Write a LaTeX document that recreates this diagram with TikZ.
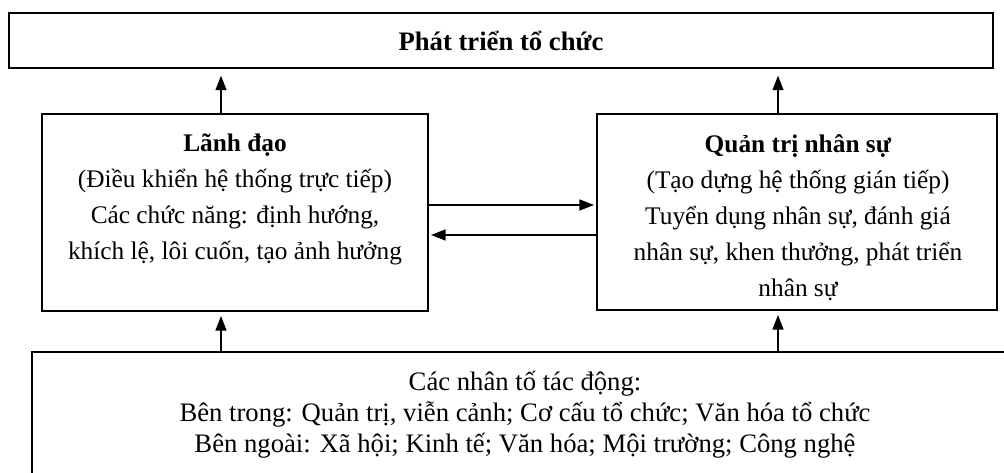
\documentclass[tikz,border=0pt]{standalone}
\usepackage{fontspec}
\setmainfont{Liberation Serif}
\usetikzlibrary{arrows.meta,calc}
\begin{document}
\begin{tikzpicture}[x=0.75pt,y=-0.75pt,
  box/.style={draw=black,line width=1.3pt,rectangle,inner sep=0pt},
  txt/.style={align=center,inner sep=0pt,font=\fontsize{19}{27}\selectfont},
  txtb/.style={align=center,inner sep=0pt,font=\fontsize{20}{23.25}\selectfont},
  arr/.style={line width=1.7pt,-{Triangle[length=11pt,width=8pt]}}]
\useasboundingbox (0,0) rectangle (1004,473);
\clip (0,0) rectangle (1004,473);
% boxes
\node[box,minimum width=738pt,minimum height=41.25pt] (T) at (501,40.5) {};
\node[box,minimum width=289.5pt,minimum height=147.75pt] (L) at (235,212.5) {};
\node[box,minimum width=300pt,minimum height=147pt] (R) at (797,212) {};
\node[box,minimum width=739.5pt,minimum height=111pt] (B) at (525,426) {};
% texts
\node[txt,font=\fontsize{20}{27}\selectfont] (Tt) at (501,41) {\textbf{Phát triển tổ chức}};
\node[txt,anchor=north] (Lt) at (235,134) {\textbf{Lãnh đạo}\\(Điều khiển hệ thống trực tiếp)\\Các chức năng: định hướng,\\khích lệ, lôi cuốn, tạo ảnh hưởng};
\node[txt,anchor=north] (Rt) at (798,134) {\textbf{Quản trị nhân sự}\\(Tạo dựng hệ thống gián tiếp)\\Tuyển dụng nhân sự, đánh giá\\nhân sự, khen thưởng, phát triển\\nhân sự};
\node[txtb,anchor=north] (Bt) at (525,371) {Các nhân tố tác động:\\Bên trong: Quản trị, viễn cảnh; Cơ cấu tổ chức; Văn hóa tổ chức\\Bên ngoài: Xã hội; Kinh tế; Văn hóa; Mội trường; Công nghệ};
% arrow positions
\coordinate (xa) at (221,0);
\coordinate (xb) at (778,0);
\coordinate (ya) at (0,205);
\coordinate (yb) at (0,235);
% arrows
\draw[arr,shorten >=5pt] (L.north -| xa) -- (T.south -| xa);
\draw[arr,shorten >=5pt] (R.north -| xb) -- (T.south -| xb);
\draw[arr,shorten >=3pt] (B.north -| xa) -- (L.south -| xa);
\draw[arr,shorten >=3pt] (B.north -| xb) -- (R.south -| xb);
\draw[arr,shorten >=1.5pt] (L.east |- ya) -- (R.west |- ya);
\draw[arr,shorten >=1.5pt] (R.west |- yb) -- (L.east |- yb);
\end{tikzpicture}
\end{document}
